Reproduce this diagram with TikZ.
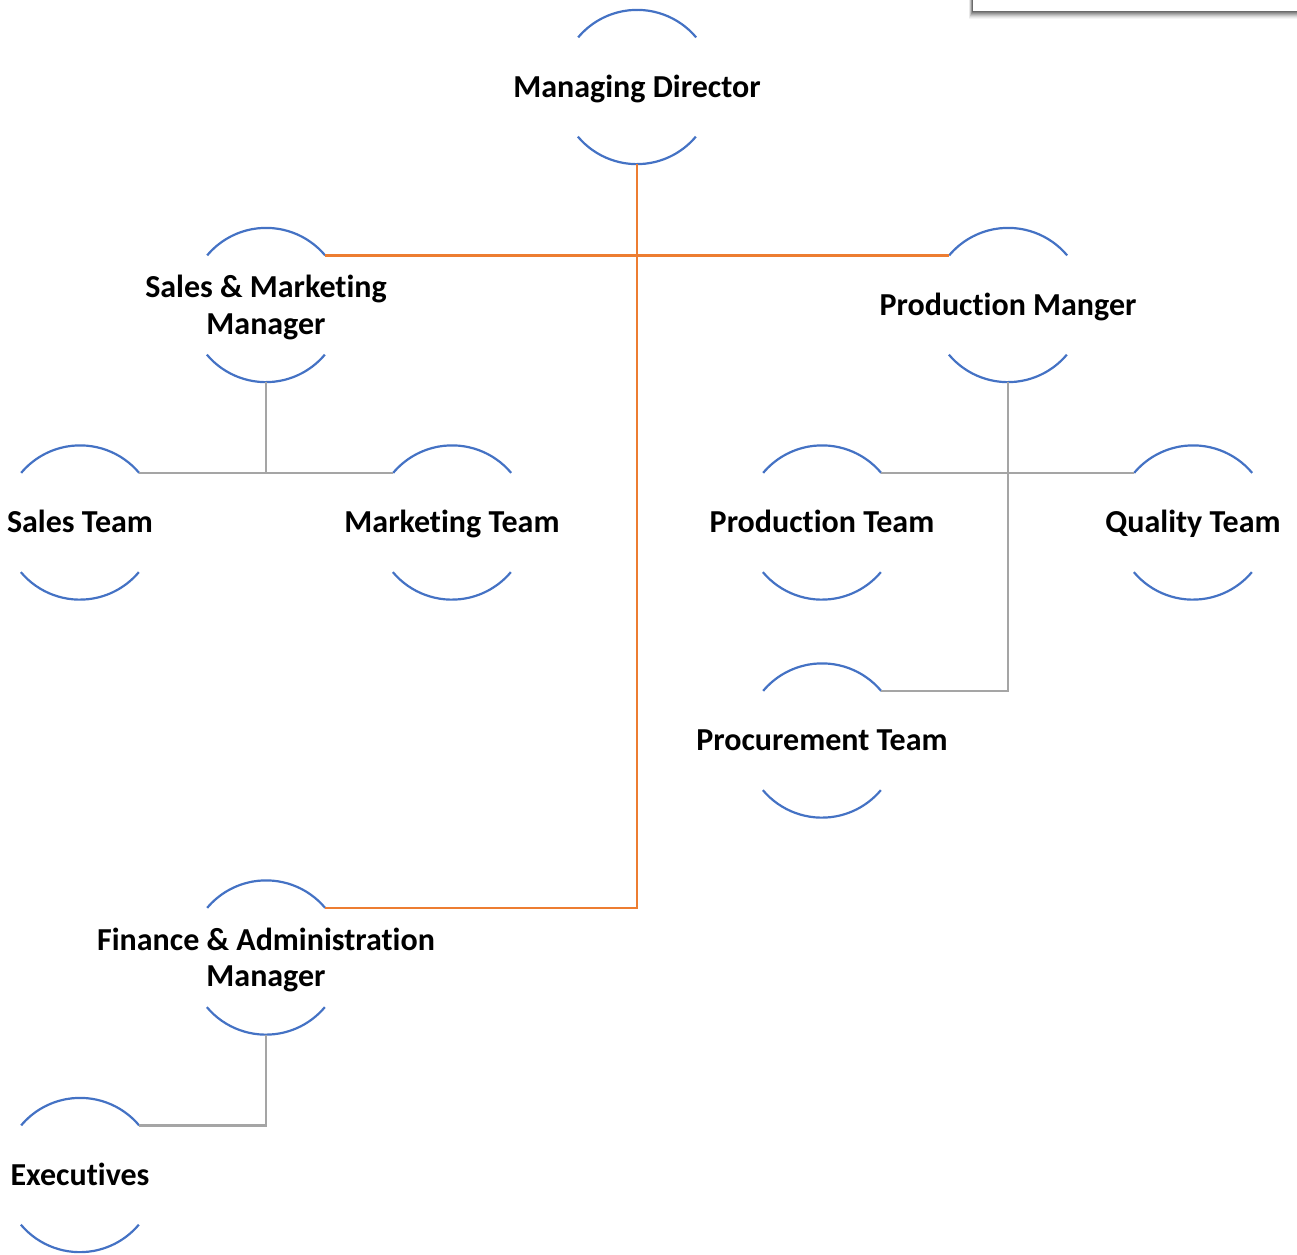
\documentclass[tikz,border=0pt]{standalone}
\usepackage{fontspec}
\setmainfont{Carlito}[Ligatures=NoCommon]
\definecolor{arcblue}{HTML}{4472C4}
\definecolor{lineorange}{HTML}{ED7D31}
\definecolor{linegrey}{HTML}{A5A5A5}
\begin{document}
\begin{tikzpicture}[x=1pt,y=1pt,
  ring/.style={circle,draw=none,inner sep=0pt,minimum size=154pt},
  ttl/.style={font=\bfseries\fontsize{32}{36.5}\selectfont,align=center,text=black,inner sep=0pt},
  one/.style={ttl,anchor=base,yshift=-10pt},
  two/.style={ttl,anchor=center,yshift=-2.5pt},
  arcst/.style={draw=arcblue,line width=2.2pt},
  oc/.style={draw=lineorange,line width=2.6pt},
  gc/.style={draw=linegrey,line width=2.4pt}]
\useasboundingbox (0,0) rectangle (1297,-1254);
% top-right shadowed box
\foreach \i/\o in {9/0.04,8/0.05,7/0.07,6/0.09,5/0.11,4/0.13,3/0.15,2/0.17,1/0.2}{
  \fill[black,opacity=\o] (973-\i*0.5,-10-\i) rectangle (1297,10);
}
\fill[white] (973,-11) rectangle (1297,10);
% rings
\node[ring] (md) at (637,-87) {};
\node[ring] (sm) at (266,-305) {};
\node[ring] (pm) at (1008,-305) {};
\node[ring] (st) at (80,-522.5) {};
\node[ring] (mt) at (452,-522.5) {};
\node[ring] (pt) at (822,-522.5) {};
\node[ring] (qt) at (1193,-522.5) {};
\node[ring] (pr) at (822,-740.5) {};
\node[ring] (fa) at (266,-957.5) {};
\node[ring] (ex) at (80,-1175) {};
\foreach \n in {md,sm,pm,st,mt,pt,qt,pr,fa,ex}{
  \draw[arcst] (\n.40) arc[start angle=40,end angle=140,radius=77pt];
  \draw[arcst] (\n.220) arc[start angle=220,end angle=320,radius=77pt];
}
% labels
\node[one] (mdt) at (md) {Managing Director};
\node[two] (smt) at (sm) {Sales \& Marketing\\Manager};
\node[one] (pmt) at (pm) {Production Manger};
\node[one] (stt) at (st) {Sales Team};
\node[one] (mtt) at (mt) {Marketing Team};
\node[one] (ptt) at (pt) {Production Team};
\node[one] (qtt) at (qt) {Quality Team};
\node[one] (prt) at (pr) {Procurement Team};
\node[two] (fat) at (fa) {Finance \& Administration\\Manager};
\node[one] (ext) at (ex) {Executives};
% orange connectors
\draw[oc] (sm.40) -- (pm.140);
\draw[oc] (md.south) |- (fa.40);
% grey connectors
\draw[gc] (sm.south) -- (sm.south |- st.40);
\draw[gc] (st.40) -- (mt.140);
\draw[gc] (pm.south) |- (pr.40);
\draw[gc] (pt.40) -- (qt.140);
\draw[gc] (fa.south) |- (ex.40);
\end{tikzpicture}
\end{document}
